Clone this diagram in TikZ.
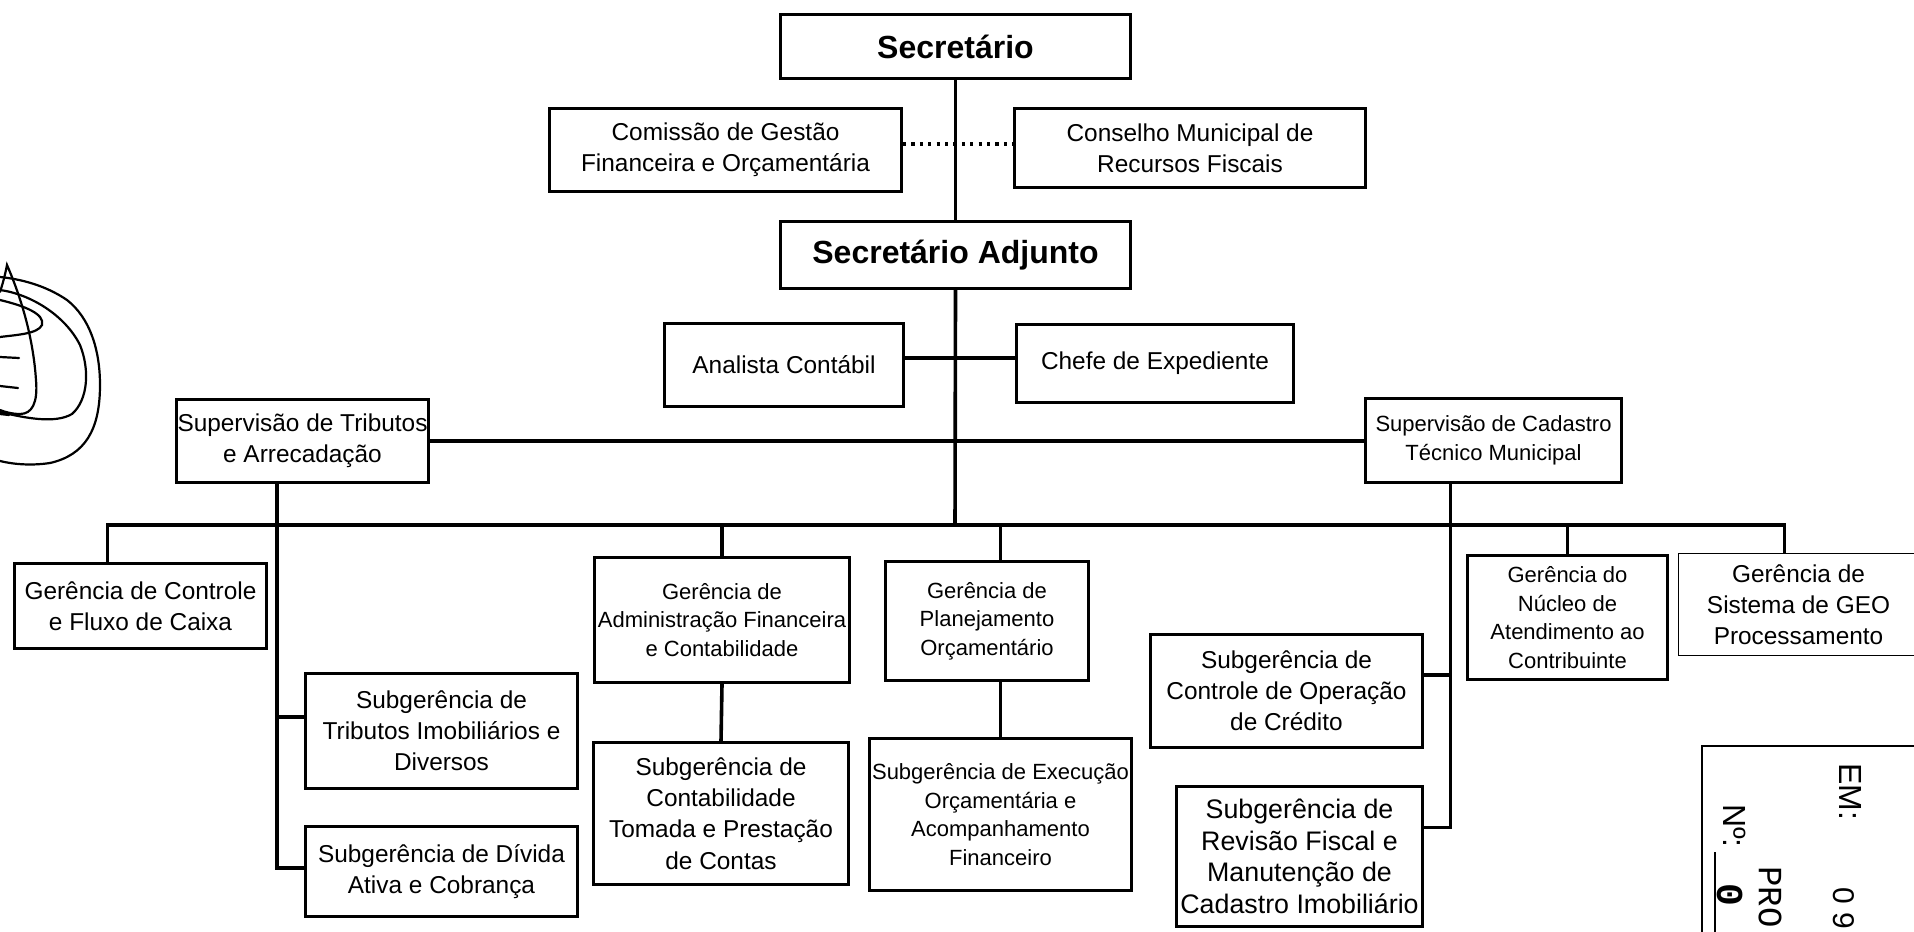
\documentclass[tikz,border=0pt]{standalone}
\usepackage{fontspec}
\setmainfont{Liberation Sans}
\newfontfamily\stampmono{Liberation Mono}
% box from corner (x1,y1) to (x2,y2), in pixel units
\newcommand\orgbox[7]{%
  \node[box,#1,minimum width={(#5-#3)*0.5pt-1.7pt},minimum height={(#6-#4)*0.5pt-1.7pt}]
    (#2) at ({(#3+#5)/2},{(#4+#6)/2}) {#7};}
\begin{document}
\begin{tikzpicture}[x=0.5pt,y=-0.5pt,
  box/.style={draw,line width=1.7pt,align=center,inner sep=0pt},
  thinbox/.style={line width=0.6pt},
  fbig/.style={font=\fontsize{16}{19}\selectfont\bfseries},
  fmid/.style={font=\fontsize{12.2}{15.6}\selectfont},
  fsmall/.style={font=\fontsize{11}{14.2}\selectfont},
  flarge/.style={font=\fontsize{13.4}{15.8}\selectfont},
  conn/.style={line width=1.8pt},
  dotconn/.style={line width=2pt,dash pattern=on 1.6pt off 2.6pt},
  sig/.style={line width=1.1pt,line cap=round},
  stamptext/.style={rotate=-90,inner sep=0pt}]
\useasboundingbox (0,0) rectangle (1914,931);
\clip (0,0) rectangle (1914,931);

% top of the chart
\orgbox{fbig}{sec}{779}{13}{1132}{80}{Secretário}
\orgbox{fmid}{com}{548}{107}{903}{193}{Comissão de Gestão\\Financeira e Orçamentária}
\orgbox{fmid}{con}{1013}{107}{1367}{189}{Conselho Municipal de\\Recursos Fiscais}
\orgbox{fbig}{adj}{779}{220}{1132}{290}{Secretário Adjunto}
\orgbox{fmid}{ana}{663}{322}{905}{408}{Analista Contábil}
\orgbox{fmid}{che}{1015}{323}{1295}{404}{Chefe de Expediente}
\orgbox{fmid}{sut}{175}{398}{430}{484}{Supervisão de Tributos\\e Arrecadação}
\orgbox{fsmall}{suc}{1364}{397}{1623}{484}{Supervisão de Cadastro\\Técnico Municipal}

% managements
\orgbox{fmid}{gcf}{13}{562}{268}{650}{Gerência de Controle\\e Fluxo de Caixa}
\orgbox{fsmall}{gaf}{593}{556}{851}{684}{Gerência de\\Administração Financeira\\e Contabilidade}
\orgbox{fsmall}{gpo}{884}{560}{1090}{682}{Gerência de\\Planejamento\\Orçamentário}
\orgbox{fsmall}{gna}{1466}{554}{1669}{681}{Gerência do\\Núcleo de\\Atendimento ao\\Contribuinte}
\orgbox{fmid,thinbox}{geo}{1677}{552}{1920}{657}{Gerência de\\Sistema de GEO\\Processamento}

% sub-managements
\orgbox{fmid}{sti}{304}{672}{579}{790}{Subgerência de\\Tributos Imobiliários e\\Diversos}
\orgbox{fmid}{sda}{304}{825}{579}{918}{Subgerência de Dívida\\Ativa e Cobrança}
\orgbox{fmid}{sct}{592}{741}{850}{886}{Subgerência de\\Contabilidade\\Tomada e Prestação\\de Contas}
\orgbox{fsmall}{seo}{868}{737}{1133}{892}{Subgerência de Execução\\Orçamentária e\\Acompanhamento\\Financeiro}
\orgbox{fmid}{sco}{1149}{633}{1424}{749}{Subgerência de\\Controle de Operação\\de Crédito}
\orgbox{flarge}{srf}{1175}{785}{1424}{928}{Subgerência de\\Revisão Fiscal e\\Manutenção de\\Cadastro Imobiliário}

% main spine and horizontal bus
\coordinate (bus) at (955,525);
\draw[conn] (sec.south) -- (adj.north);
\draw[conn] (adj.south) -- (bus);
\draw[dotconn] ([yshift=3pt]com.east) -- ([yshift=3pt]com.east -| con.west);
\draw[conn] ([yshift=3.5pt]ana.east) -- ([yshift=3.5pt]ana.east -| che.west);
\draw[conn] (sut.east) -- (sut.east -| suc.west);
\coordinate (gcfTop) at ([xshift=-16.5pt]gcf.north);
\coordinate (geoTop) at ([xshift=-7pt]geo.north);
\draw[conn] (gcfTop) |- (bus) -| (geoTop);
\draw[conn] (gaf.north) -- (gaf.north |- bus);
\draw[conn] (seo.north |- gpo.north) -- (seo.north |- bus);
\draw[conn] (gna.north) -- (gna.north |- bus);

% under the two supervisions
\coordinate (sutDrop) at ([xshift=-12.75pt]sut.south);
\draw[conn] (sutDrop) |- ([yshift=1.75pt]sda.west);
\draw[conn] ([yshift=7pt]sti.west) -- ([yshift=7pt]sti.west -| sutDrop);
\coordinate (sucDrop) at ([xshift=-21.5pt]suc.south);
\draw[conn] (sucDrop) |- ([yshift=14.5pt]srf.east);
\draw[conn] ([yshift=8pt]sco.east) -- ([yshift=8pt]sco.east -| sucDrop);

% from managements to their sub-managements
\draw[conn] (gaf.south) -- (sct.north);
\draw[conn] (seo.north |- gpo.south) -- (seo.north);

% signature on the left margin
\draw[sig] (0,277) .. controls (20,279) and (45,285) .. (67,300)
  .. controls (90,318) and (100,350) .. (100,385)
  .. controls (100,430) and (85,455) .. (50,463) .. controls (30,466) and (12,464) .. (0,461);
\draw[sig] (0,290) .. controls (30,294) and (65,315) .. (80,345)
  .. controls (90,370) and (88,400) .. (72,414) .. controls (55,424) and (25,418) .. (0,412);
\draw[sig] (0,292) .. controls (4,280) and (6,270) .. (7,265)
  .. controls (20,295) and (33,335) .. (36,380) .. controls (38,403) and (32,414) .. (20,414)
  .. controls (12,414) and (5,412) .. (0,410);
\draw[sig] (0,300) .. controls (25,306) and (45,314) .. (42,325)
  .. controls (38,334) and (15,335) .. (0,337);
\draw[sig] (0,357) -- (19,358);
\draw[sig] (0,386) -- (18,388);
\draw[sig] (0,414) -- (9,415);

% receipt stamp in the lower right corner
\draw[line width=0.8pt] (1702,940) -- (1702,746) -- (1920,746);
\draw[line width=1pt] (1715,852) -- (1715,940);
\node[stamptext,font=\fontsize{16}{16}\selectfont] (stEm) at (1850,792) {EM:};
\node[stamptext,font=\fontsize{16}{16}\selectfont] (stNo) at (1735,826) {Nº:};
\node[stamptext,font=\fontsize{17}{17}\selectfont\stampmono,anchor=north west] (stPro) at (1782,866) {PRO};
\node[stamptext,font=\fontsize{19}{19}\selectfont\stampmono\bfseries,anchor=north west] (stZero) at (1743,883) {0};
\node[stamptext,font=\fontsize{15}{15}\selectfont,anchor=north west] (stDate) at (1855,887) {0 9};
\end{tikzpicture}
\end{document}
